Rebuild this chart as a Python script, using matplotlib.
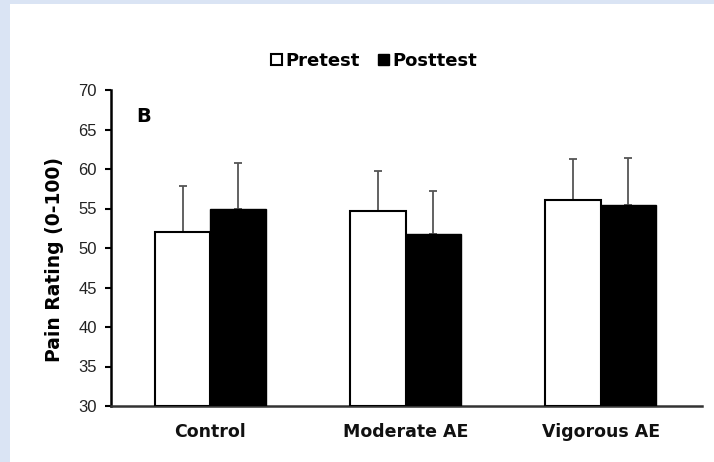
import matplotlib
matplotlib.use('Agg')
import matplotlib.pyplot as plt
from matplotlib.patches import Rectangle
import numpy as np

# data
groups = ['Control', 'Moderate AE', 'Vigorous AE']
pretest = [52.0, 54.7, 56.1]
posttest = [54.9, 51.8, 55.5]
pretest_sd = [5.8, 5.1, 5.2]
posttest_sd = [5.9, 5.4, 5.9]
yticks = [30, 35, 40, 45, 50, 55, 60, 65, 70]

plt.rcParams['font.family'] = ['DejaVu Sans']

fig = plt.figure(figsize=(7.14, 4.62), dpi=100)
fig.patch.set_facecolor('#dae4f4')
# white panel inside the light blue frame
fig.patches.append(Rectangle((10 / 714, 0), 1, 1 - 4 / 462, transform=fig.transFigure,
                             facecolor='white', edgecolor='none', zorder=-5))

ax = fig.add_axes([111 / 714, 1 - 406 / 462, (702 - 111) / 714, (406 - 90) / 462])
ax.set_facecolor('none')

x = np.arange(len(groups))
w = 0.285
b1 = ax.bar(x - w / 2, np.array(pretest) - 30, w, bottom=30, color='white',
            edgecolor='black', linewidth=1.5, label='Pretest', zorder=3)
b2 = ax.bar(x + w / 2, np.array(posttest) - 30, w, bottom=30, color='black',
            edgecolor='black', linewidth=1.0, label='Posttest', zorder=3)
ax.errorbar(x - w / 2, pretest, yerr=[np.zeros(3), pretest_sd], fmt='none',
            ecolor='#555555', elinewidth=1.3, capsize=3, capthick=1.3, zorder=2)
ax.errorbar(x + w / 2, posttest, yerr=[np.zeros(3), posttest_sd], fmt='none',
            ecolor='#555555', elinewidth=1.3, capsize=3, capthick=1.3, zorder=2)

ax.set_xlim(-0.51, 2.52)
ax.set_ylim(30, 70)
ax.set_yticks(yticks)
ax.set_yticklabels([str(t) for t in yticks], family=['Liberation Sans Narrow', 'Liberation Sans'],
                   fontsize=12, color='#222222')
ax.set_xticks(x)
ax.set_xticklabels(groups, fontsize=12.5, fontweight='bold', color='#111111')
ax.tick_params(axis='x', length=0, pad=12)
ax.tick_params(axis='y', direction='out', length=4, width=1.5, pad=6)
for s in ['top', 'right']:
    ax.spines[s].set_visible(False)
ax.spines['left'].set_linewidth(1.8)
ax.spines['bottom'].set_linewidth(1.8)
ax.spines['bottom'].set_color('#333333')

ax.set_ylabel('Pain Rating (0-100)', fontsize=13.5, fontweight='bold', labelpad=6)
ax.yaxis.set_label_coords(-0.08, 0.465)
ax.text(0.055, 0.915, 'B', transform=ax.transAxes, fontsize=14, fontweight='bold',
        va='center', ha='center')

fig.legend(handles=[b1, b2], loc='center', bbox_to_anchor=(374 / 714, 1 - 61 / 462),
           ncol=2, frameon=False, prop={'weight': 'bold', 'size': 13},
           handlelength=0.6, handleheight=0.6, handletextpad=0.2, columnspacing=1.0)

fig.savefig('out.png', dpi=100, facecolor=fig.get_facecolor())
